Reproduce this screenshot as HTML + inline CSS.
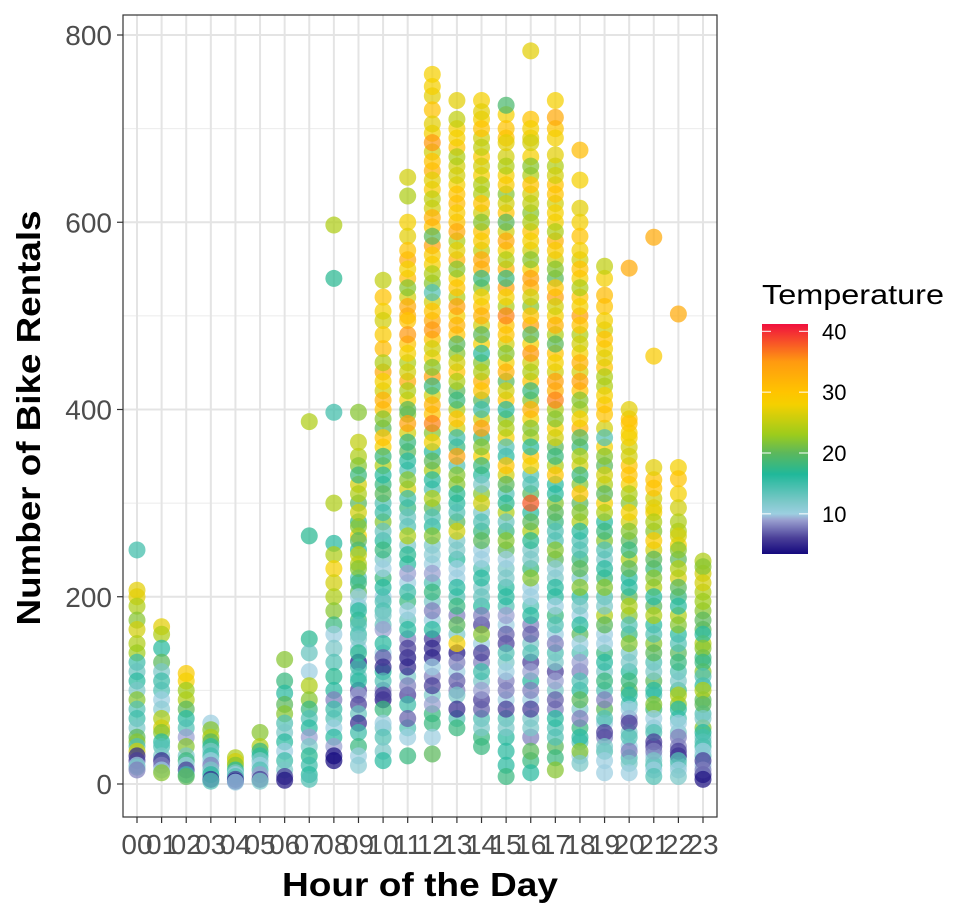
<!DOCTYPE html>
<html><head><meta charset="utf-8"><style>
html,body{margin:0;padding:0;background:#fff;}
svg{display:block;font-family:"Liberation Sans",Arial,sans-serif;}
</style></head><body>
<svg id="chart" width="974" height="918" viewBox="0 0 974 918">
<defs>
<linearGradient id="tempGrad" x1="0" y1="1" x2="0" y2="0"></linearGradient>
</defs>
<g id="grid"></g>
<g id="points"></g>
<rect x="123" y="15" width="594" height="802" fill="none" stroke="#333" stroke-width="1.2"/>
<g id="axes"></g>
<text x="40" y="418" transform="rotate(-90 40 418)" text-anchor="middle" font-size="33" font-weight="bold" fill="#000" textLength="415" lengthAdjust="spacingAndGlyphs">Number of Bike Rentals</text>
<text x="420" y="896" text-anchor="middle" font-size="33" font-weight="bold" fill="#000" textLength="276" lengthAdjust="spacingAndGlyphs">Hour of the Day</text>
<g id="legend">
<text x="762" y="304" font-size="28" fill="#000" textLength="182" lengthAdjust="spacingAndGlyphs">Temperature</text>
<rect x="762" y="324" width="46" height="230" fill="url(#tempGrad)"/>
</g>
</svg>
<script>
const hours = ["00","01","02","03","04","05","06","07","08","09","10","11","12","13","14","15","16","17","18","19","20","21","22","23"];
const yTicks = [0,200,400,600,800];
const legendTicks = [10,20,30,40];
// each hour: "count:temperature" pairs
const points = [
"250:15 207:27 200:27 190:24 175:22 165:26 150:24 140:23 130:15 120:13 110:16 100:12 90:22 80:14 70:15 60:12 50:20 45:22 40:14 35:26 30:5 25:6 20:10 18:12 15:8",
"168:27 160:24 145:16 130:20 120:12 110:15 100:14 90:10 80:11 70:24 60:26 55:22 45:16 40:14 30:12 25:5 20:8 15:10 12:22",
"118:29 110:28 100:23 90:24 80:20 70:16 60:14 50:9 40:22 30:12 25:18 20:10 15:6 10:15 8:20",
"65:10 58:22 50:24 45:20 40:16 35:12 30:15 25:10 20:8 15:12 10:16 5:5 3:14",
"28:24 24:26 20:22 15:16 12:12 10:10 8:14 5:6 3:4 2:10",
"55:22 40:24 35:18 30:16 25:12 20:10 15:14 10:9 5:6 3:12",
"133:22 110:18 97:16 85:20 75:22 65:14 55:12 45:16 35:10 25:15 15:12 8:6 4:4",
"387:24 265:17 155:17 140:13 120:10 105:24 90:22 80:18 70:14 60:16 50:9 40:12 30:17 20:15 10:16 5:14",
"597:24 540:17 397:15 300:24 257:16 245:24 230:28 215:26 200:24 185:22 170:18 160:10 145:12 130:14 115:17 100:16 90:8 80:15 70:14 60:10 50:16 40:9 30:4 25:3",
"397:22 365:25 340:22 330:18 310:24 290:26 275:22 260:20 245:25 230:22 215:18 200:10 185:16 170:14 155:12 140:17 125:15 110:16 95:9 85:6 75:13 65:5 55:15 40:18 30:10 20:11",
"538:25 495:26 480:29 465:31 450:24 430:28 410:32 390:22 370:30 350:18 330:16 310:20 290:15 270:13 250:18 230:10 210:16 195:14 180:12 165:9 150:16 135:7 125:5 110:14 95:6 80:18 65:10 50:14 35:12 25:16",
"648:26 628:24 585:27 570:30 550:28 530:22 510:33 495:30 480:35 460:28 440:26 420:24 400:20 385:34 365:18 345:16 325:22 305:15 285:13 265:24 245:17 225:9 205:15 185:10 165:16 145:6 125:5 105:8 85:15 70:7 50:10 30:18",
"758:28 745:28 705:27 685:35 665:30 645:27 625:25 605:32 585:20 565:29 545:24 525:14 505:30 485:35 465:26 445:22 425:18 405:32 385:36 365:28 345:20 325:16 305:24 285:14 265:22 245:11 225:9 205:18 185:8 165:16 145:5 125:10 105:6 85:9 65:18 50:10 32:20",
"730:27 710:25 690:28 670:24 650:26 630:30 610:29 590:33 570:27 550:22 530:30 510:34 490:32 470:20 450:26 430:24 410:18 390:30 370:15 350:34 330:22 310:17 290:14 270:26 250:12 230:10 210:16 190:18 170:20 150:28 130:8 110:7 95:12 80:5 60:18",
"730:28 718:27 700:30 680:25 660:26 640:24 620:30 600:22 580:29 560:33 540:18 520:28 500:32 480:20 460:16 440:24 420:30 400:15 380:34 360:22 340:18 320:12 300:26 280:14 260:20 240:10 220:16 200:13 180:8 160:22 140:6 120:15 100:9 80:7 60:12 40:18",
"725:19 700:30 685:27 660:24 640:29 620:26 600:20 580:33 560:24 540:18 520:28 500:36 480:30 460:22 440:32 420:26 400:16 380:24 360:14 340:30 320:20 300:17 280:13 260:22 240:10 220:12 200:16 180:9 160:7 140:14 120:10 100:8 80:6 60:12 35:16 8:18",
"783:27 700:28 685:26 660:22 640:30 620:25 600:24 580:28 560:22 540:34 520:26 500:30 480:20 460:35 440:24 420:18 400:32 380:22 360:16 340:28 320:14 300:38 280:20 260:17 240:12 220:22 200:10 180:16 160:7 140:14 120:9 100:8 80:6 60:12 35:20 12:16",
"730:28 712:33 672:27 650:26 630:30 610:28 590:24 570:29 550:22 530:30 510:26 490:32 470:20 450:28 430:34 410:36 390:22 370:26 350:18 330:30 310:16 290:20 270:14 250:22 230:11 210:16 190:10 170:14 150:8 130:12 110:9 90:7 70:16 50:14 28:18 15:22",
"677:31 645:28 615:27 570:28 550:30 530:24 510:28 490:30 470:26 450:32 430:34 410:22 390:28 370:20 350:24 330:18 310:30 290:22 270:16 250:14 230:20 210:22 190:12 170:16 150:10 130:9 110:14 90:20 70:8 50:16 35:22 22:12",
"553:25 522:31 495:28 475:30 455:27 435:24 415:28 395:30 370:14 350:22 330:26 310:20 290:24 270:18 250:14 230:16 210:22 190:12 170:20 150:10 130:16 110:18 90:8 70:14 55:6 40:12 25:10 12:10",
"551:33 400:27 385:30 370:28 350:26 330:30 310:24 290:28 270:22 250:18 230:20 210:16 190:24 170:14 150:22 130:12 110:18 95:16 80:10 65:6 50:14 35:8 22:12 12:10",
"584:33 457:29 338:27 316:30 295:27 280:24 260:29 240:20 220:22 200:16 180:24 160:14 140:20 120:12 100:16 85:22 70:10 55:14 45:6 35:8 25:12 15:10 8:14",
"502:33 338:28 326:30 280:24 265:26 250:22 230:24 210:20 190:16 170:22 150:14 130:18 110:12 95:24 80:16 65:10 50:8 35:6 25:14 15:10 8:12",
"238:24 232:22 215:26 195:23 175:20 160:16 145:22 130:18 115:14 100:24 85:20 70:12 55:16 45:14 35:10 25:6 15:8 5:4"
];
// additional observations filling the dense columns
const morePoints = [
"", "", "", "", "", "", "", "", "",
"350:24 320:26 300:20 280:18 265:28 250:16 235:24 220:14 205:20 190:12 175:18 160:15 145:10 130:4 115:13 100:6",
"520:30 505:28 440:33 420:26 400:30 380:20 360:28 340:24 320:18 300:14 280:22 260:16 240:12 220:18 200:10 185:15 170:13 140:10 120:16 100:8 90:4 60:12",
"600:28 560:33 540:31 520:26 500:32 470:30 450:24 430:33 410:28 395:22 375:26 355:20 335:14 315:26 295:18 275:14 255:12 235:16 215:10 195:18 175:13 155:8 135:4 115:12 95:6 60:14",
"735:27 720:30 695:28 675:26 655:32 635:29 615:26 595:30 575:34 555:28 535:22 515:26 495:33 475:30 455:28 435:34 415:26 395:30 375:22 355:16 335:24 315:14 295:20 275:16 255:12 235:10 215:14 195:12 175:10 155:6 135:4 115:8 95:12 75:18",
"700:28 680:30 660:26 640:28 620:31 600:30 580:24 560:32 540:28 520:24 500:28 480:30 460:22 440:30 420:20 400:24 380:26 360:18 340:14 320:22 300:16 280:20 260:12 240:16 220:10 200:14 180:8 160:12 140:4 120:10 100:8 70:14",
"710:28 690:26 670:29 650:28 630:24 610:26 590:30 570:25 550:32 530:22 510:30 490:26 470:28 450:22 430:32 410:20 390:26 370:18 350:28 330:16 310:22 290:12 270:18 250:10 230:14 210:12 190:16 170:6 150:10 130:8 110:12 90:6 70:14 50:18",
"715:28 690:30 670:26 650:28 630:22 610:30 590:26 570:28 550:32 530:34 510:24 490:30 470:26 450:28 430:20 410:30 390:22 370:28 350:16 330:26 310:14 290:24 270:18 250:20 230:12 210:16 190:14 170:10 150:6 130:12 110:8 90:10 70:14 50:16 20:16",
"710:30 690:27 670:28 650:24 630:26 610:22 590:30 570:26 550:28 530:32 510:22 490:34 470:28 450:26 430:30 410:22 390:28 370:24 350:30 330:14 310:20 290:16 270:24 250:12 230:18 210:10 190:14 170:8 150:12 130:6 110:16 90:10 70:12 50:8 25:18",
"700:30 690:28 660:24 640:30 620:26 600:28 580:32 560:26 540:20 520:34 500:28 480:24 460:30 440:26 420:32 400:24 380:28 360:20 340:24 320:16 300:22 280:18 260:14 240:20 220:12 200:16 180:18 160:10 140:14 120:6 100:12 80:8 60:14 40:20",
"600:28 585:30 560:26 540:28 520:30 500:34 480:24 460:28 440:26 420:30 400:24 380:32 360:18 340:26 320:22 300:20 280:24 260:14 240:18 220:12 200:16 180:10 160:20 140:14 120:8 100:16 80:12 60:18 45:14 30:10",
"540:28 510:30 485:26 465:28 445:30 425:24 405:30 380:26 360:28 340:20 320:24 300:28 280:16 260:22 240:12 220:18 200:14 180:24 160:10 140:18 120:12 100:14 80:20 65:10 50:8 35:14",
"390:30 375:28 360:26 340:30 320:28 300:22 280:26 260:20 240:24 220:16 200:20 180:22 160:18 140:12 120:16 100:20 85:14 70:8 55:12 40:10 28:14",
"325:30 305:26 290:28 270:22 250:26 230:18 210:24 190:20 170:16 150:22 130:14 110:20 95:14 80:18 60:12 40:6 30:10 20:16",
"310:28 295:26 270:24 255:28 240:20 220:26 200:18 180:24 160:16 140:20 120:14 100:18 85:22 70:14 55:12 40:8 30:4 20:12",
"225:26 205:24 185:22 165:20 150:24 135:18 120:22 105:16 90:20 75:14 60:22 50:12 40:16 30:14 20:10 10:4"
];
const tempStops = [3.4,6,9,10,12,16.5,20,23,28,30,35,41.2];
const colorStops = ["#14087e","#4a3f98","#9aa0d0","#9ccfe0","#7cc8c8","#20b89a","#5cb85c","#9ccc1c","#f5d000","#ffc400","#ff9a10","#f0103e"];

const NS="http://www.w3.org/2000/svg";
const X0=123,X1=717,Y0=15,Y1=817;
function xScale(i){return 137+i*(703-137)/23;}
function yScale(v){return 784-v*(784-35)/800;}
function legY(t){return 554-(t-3.4)*(554-324)/(41.2-3.4);}
function hex(c){return [1,3,5].map(k=>parseInt(c.substr(k,2),16));}
function tempColor(t){
  if(t<=tempStops[0])return colorStops[0];
  for(let i=1;i<tempStops.length;i++){
    if(t<=tempStops[i]){
      const f=(t-tempStops[i-1])/(tempStops[i]-tempStops[i-1]);
      const a=hex(colorStops[i-1]),b=hex(colorStops[i]);
      return "rgb("+a.map((v,k)=>Math.round(v+(b[k]-v)*f)).join(",")+")";
    }
  }
  return colorStops[colorStops.length-1];
}
function mk(tag,attrs,parent){const e=document.createElementNS(NS,tag);for(const k in attrs)e.setAttribute(k,attrs[k]);parent.appendChild(e);return e;}

const grid=document.getElementById("grid");
for(let v=100;v<800;v+=200){
  const l=mk("line",{x1:X0,x2:X1,y1:yScale(v),y2:yScale(v),stroke:"#ebebeb","stroke-width":1},grid);
  
  
}
yTicks.forEach(v=>{
  const l=mk("line",{x1:X0,x2:X1,y1:yScale(v),y2:yScale(v),stroke:"#e4e4e4","stroke-width":2},grid);
  
  
});
hours.forEach((h,i)=>{
  const l=mk("line",{x1:xScale(i),x2:xScale(i),y1:Y0,y2:Y1,stroke:"#e4e4e4","stroke-width":2},grid);
  
  
});

const pg=document.getElementById("points");
function drawSet(set){
  set.forEach((s,i)=>{
    if(!s)return;
    s.split(" ").forEach(p=>{
      const [c,t]=p.split(":").map(Number);
      const el=mk("circle",{cx:xScale(i),cy:yScale(c),r:8.5,fill:tempColor(t),"fill-opacity":0.72},pg);
      
      
    });
  });
}
drawSet(morePoints);
drawSet(points);

const ax=document.getElementById("axes");
yTicks.forEach(v=>{
  const tk=mk("line",{x1:117,x2:123,y1:yScale(v),y2:yScale(v),stroke:"#333","stroke-width":1.2},ax);
  
  
  const t=mk("text",{x:112,y:yScale(v)+10,"text-anchor":"end","font-size":28,fill:"#4d4d4d"},ax);
  t.textContent=v;
  
  
});
hours.forEach((h,i)=>{
  const tk=mk("line",{x1:xScale(i),x2:xScale(i),y1:817,y2:823,stroke:"#333","stroke-width":1.2},ax);
  
  
  const t=mk("text",{x:xScale(i),y:854,"text-anchor":"middle","font-size":28,fill:"#4d4d4d"},ax);
  t.textContent=h;
  
  
});

const grad=document.getElementById("tempGrad");
tempStops.forEach((t,i)=>{
  mk("stop",{offset:((t-3.4)/(41.2-3.4)).toFixed(4),"stop-color":colorStops[i]},grad);
});
const lg=document.getElementById("legend");
legendTicks.forEach(v=>{
  const y=legY(v);
  const a=mk("line",{x1:762,x2:771,y1:y,y2:y,stroke:"#fff","stroke-width":1},lg);
  
  
  const b=mk("line",{x1:799,x2:808,y1:y,y2:y,stroke:"#fff","stroke-width":1},lg);
  
  
  const t=mk("text",{x:822,y:y+8,"font-size":22,fill:"#000"},lg);
  t.textContent=v;
  
  
});
</script>
</body></html>
